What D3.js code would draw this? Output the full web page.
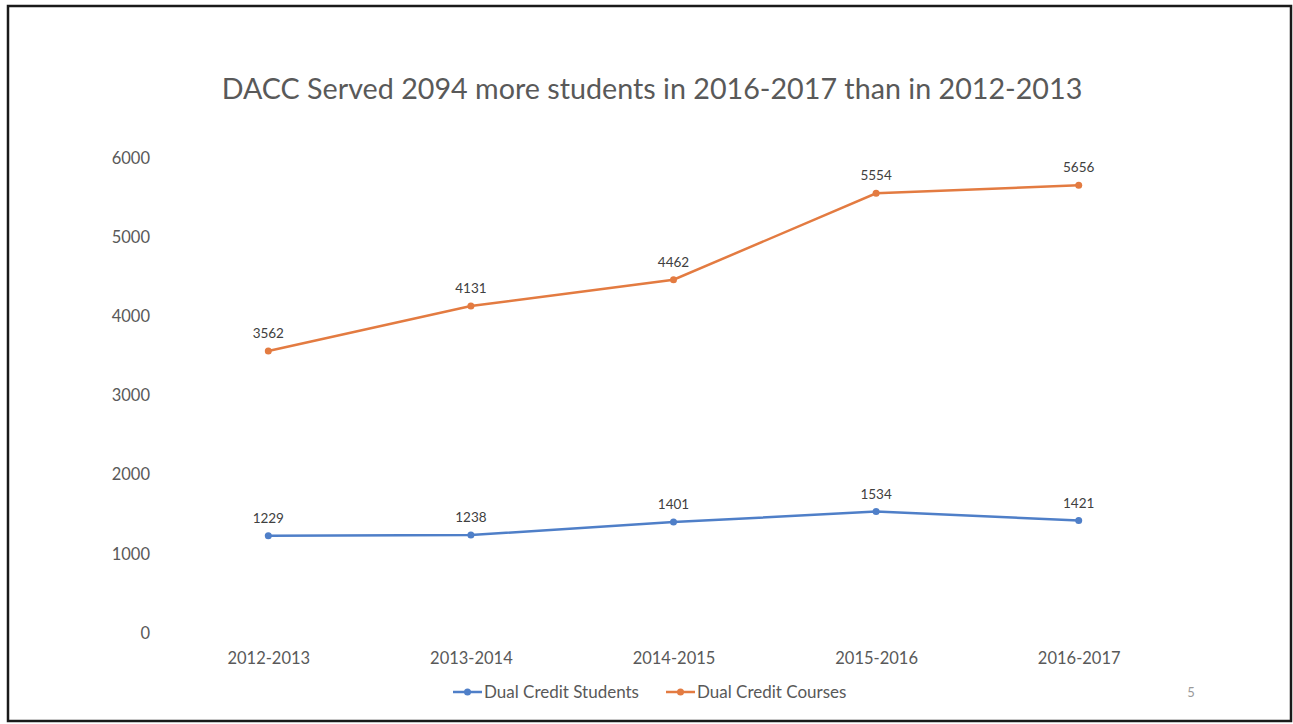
<!DOCTYPE html>
<html>
<head>
<meta charset="utf-8">
<script src="https://cdn.jsdelivr.net/npm/d3@7"></script>
<style>
  body { margin: 0; background: #fff; }
  svg { display: block; font-family: Lato, "Open Sans", sans-serif; }
</style>
</head>
<body>
<div id="chart"></div>
<script>
var svgWidth = 1293;
var svgHeight = 724;

// chart data
var years = ["2012-2013", "2013-2014", "2014-2015", "2015-2016", "2016-2017"];
var students = [1229, 1238, 1401, 1534, 1421];
var courses = [3562, 4131, 4462, 5554, 5656];
var yTicks = [0, 1000, 2000, 3000, 4000, 5000, 6000];
var seriesNames = ["Dual Credit Students", "Dual Credit Courses"];
var seriesColors = ["#4f7fc8", "#e37b41"];

var svg = d3.select("#chart")
  .append("svg")
  .attr("width", svgWidth)
  .attr("height", svgHeight);

// slide border
svg.append("rect")
  .attr("x", 8).attr("y", 6)
  .attr("width", 1283).attr("height", 715)
  .attr("fill", "none")
  .attr("stroke", "#1a1a1a")
  .attr("stroke-width", 2.5);

// title, sized to the slide's width
var title = svg.append("text")
  .attr("x", 652)
  .attr("y", 99)
  .attr("text-anchor", "middle")
  .attr("fill", "#595959")
  .attr("font-size", 28)
  .text("DACC Served 2094 more students in 2016-2017 than in 2012-2013");
var tw = title.node().getComputedTextLength();
title.attr("font-size", 28 * 861 / tw);

// scales
var xScale = d3.scalePoint()
  .domain(years)
  .range([167, 1180])
  .padding(0.5);

var yScale = d3.scaleLinear()
  .domain([0, 6000])
  .range([633, 158]);

// axes
var leftAxis = d3.axisLeft(yScale)
  .tickValues(yTicks)
  .tickFormat(d3.format("d"))
  .tickSize(0)
  .tickPadding(17);
var bottomAxis = d3.axisBottom(xScale).tickSize(0).tickPadding(19);

var yAxisG = svg.append("g")
  .attr("transform", "translate(167, 0)")
  .call(leftAxis);

var xAxisG = svg.append("g")
  .attr("transform", "translate(0, 633)")
  .call(bottomAxis);

[yAxisG, xAxisG].forEach(function(g) {
  g.select(".domain").remove();
  g.selectAll("text")
    .attr("fill", "#595959")
    .attr("font-size", 16.5)
    .attr("font-family", "Lato, 'Open Sans', sans-serif");
});

// lines
var line = d3.line()
  .x(function(d, i) { return xScale(years[i]); })
  .y(function(d) { return yScale(d); });

[students, courses].forEach(function(values, s) {
  var g = svg.append("g");

  g.append("path")
    .datum(values)
    .attr("d", line)
    .attr("fill", "none")
    .attr("stroke", seriesColors[s])
    .attr("stroke-width", 2.5);

  g.selectAll("circle")
    .data(values)
    .enter()
    .append("circle")
    .attr("cx", function(d, i) { return xScale(years[i]); })
    .attr("cy", function(d) { return yScale(d); })
    .attr("r", 3.5)
    .attr("fill", seriesColors[s]);

  g.selectAll("text")
    .data(values)
    .enter()
    .append("text")
    .attr("x", function(d, i) { return xScale(years[i]); })
    .attr("y", function(d) { return yScale(d) - 13; })
    .attr("text-anchor", "middle")
    .attr("font-size", 13.5)
    .attr("fill", "#404040")
    .text(function(d) { return d; });
});

// legend
var legendX = [453, 666];
seriesNames.forEach(function(name, s) {
  var lg = svg.append("g").attr("transform", "translate(" + legendX[s] + ", 692)");
  lg.append("line")
    .attr("x1", 0).attr("x2", 29)
    .attr("y1", 0).attr("y2", 0)
    .attr("stroke", seriesColors[s])
    .attr("stroke-width", 2.5);
  lg.append("circle")
    .attr("cx", 14.5).attr("cy", 0).attr("r", 3.5)
    .attr("fill", seriesColors[s]);
  lg.append("text")
    .attr("x", 31)
    .attr("y", 0)
    .attr("dy", "0.35em")
    .attr("font-size", 17)
    .attr("fill", "#595959")
    .text(name);
});

// slide number
svg.append("text")
  .attr("x", 1191)
  .attr("y", 692)
  .attr("dy", "0.35em")
  .attr("text-anchor", "middle")
  .attr("font-size", 13)
  .attr("fill", "#9a9a9a")
  .text("5");
</script>
</body>
</html>
